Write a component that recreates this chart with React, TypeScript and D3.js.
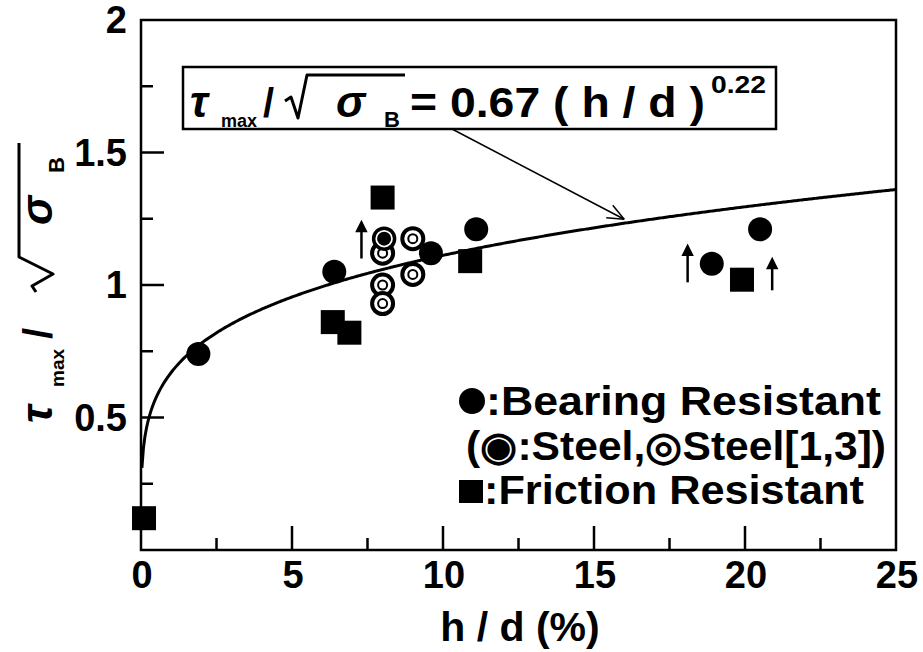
import React, { useRef, useEffect } from "react";
import * as d3 from "d3";

// bearing resistant (filled circles)
const bearingX = [1.9, 6.4, 9.6, 11.1, 18.9, 20.5];
const bearingY = [0.74, 1.05, 1.12, 1.21, 1.08, 1.21];
// steel, this study (filled circle with ring)
const steelX = [8.05];
const steelY = [1.175];
// steel from refs [1,3] (double rings)
const steelRefX = [8.0, 9.0, 9.0, 8.0, 8.0];
const steelRefY = [1.12, 1.175, 1.04, 1.0, 0.93];
// friction resistant (filled squares)
const frictionX = [0.1, 6.35, 6.9, 8.0, 10.9, 19.9];
const frictionY = [0.12, 0.86, 0.82, 1.33, 1.09, 1.02];
// up arrows (lower bound values)
const arrowX = [7.3, 18.1, 20.9];
const arrowBase = [1.1, 1.01, 0.98];
const arrowTop = [1.24, 1.15, 1.1];

const xTicks = [0, 5, 10, 15, 20, 25];
const yTicks = [0.5, 1, 1.5, 2];
const fitA = 0.67;
const fitB = 0.22;

const FONT = "'Liberation Sans', Arial, sans-serif";

function ScatterChart() {
  const svgRef = useRef<SVGSVGElement>(null);

  useEffect(() => {
    const svg = d3.select(svgRef.current);
    svg.selectAll("*").remove();

    const xScale = d3.scaleLinear().domain([0, 25]).range([141, 896]);
    const yScale = d3.scaleLinear().domain([0, 2]).range([550, 20]);

    // frame
    svg.append("rect")
      .attr("x", xScale(0)).attr("y", yScale(2))
      .attr("width", xScale(25) - xScale(0))
      .attr("height", yScale(0) - yScale(2))
      .attr("fill", "none").attr("stroke", "#000").attr("stroke-width", 2.5);

    // x ticks (inside)
    const xMinor = d3.range(2.5, 25, 2.5);
    svg.selectAll(".xt").data(xMinor).join("line").attr("class", "xt")
      .attr("x1", d => xScale(d)).attr("x2", d => xScale(d))
      .attr("y1", yScale(0))
      .attr("y2", d => yScale(0) - (d % 5 === 0 ? 24 : 12))
      .attr("stroke", "#000").attr("stroke-width", 2.5);

    const yMinor = d3.range(0.25, 2, 0.25);
    svg.selectAll(".yt").data(yMinor).join("line").attr("class", "yt")
      .attr("y1", d => yScale(d)).attr("y2", d => yScale(d))
      .attr("x1", xScale(0))
      .attr("x2", d => xScale(0) + (Math.abs(d * 2 - Math.round(d * 2)) < 1e-6 ? 23 : 12))
      .attr("stroke", "#000").attr("stroke-width", 2.5);

    // tick labels
    svg.selectAll(".xl").data(xTicks).join("text").attr("class", "xl")
      .attr("x", d => xScale(d) + 1).attr("y", 588)
      .attr("text-anchor", "middle")
      .style("font-family", FONT).style("font-size", "38px").style("font-weight", "bold")
      .text(d => d);

    svg.selectAll(".yl").data(yTicks).join("text").attr("class", "yl")
      .attr("x", 127).attr("y", d => yScale(d) + 13)
      .attr("text-anchor", "end")
      .style("font-family", FONT).style("font-size", "38px").style("font-weight", "bold")
      .text(d => d);

    // x title
    svg.append("text")
      .attr("x", 520).attr("y", 641).attr("text-anchor", "middle")
      .attr("xml:space", "preserve")
      .style("font-family", FONT).style("font-size", "41px").style("font-weight", "bold")
      .text("h / d (%)");

    // y title (rotated)
    const yt = svg.append("g").attr("transform", "translate(52,283) rotate(-90)")
      .style("font-family", FONT).style("font-weight", "bold");
    yt.append("text").attr("x", -140).attr("y", 0).style("font-size", "44px").style("font-style", "italic").text("τ");
    yt.append("text").attr("x", -104).attr("y", 12).style("font-size", "19px").text("max");
    yt.append("text").attr("x", -56).attr("y", 0).style("font-size", "40px").text("/");
    yt.append("path").attr("d", "M-9,-16 L-3,-20 L9,1 L26,-33 L140,-33")
      .attr("fill", "none").attr("stroke", "#000").attr("stroke-width", 3).attr("stroke-linejoin", "round");
    yt.append("text").attr("x", 58).attr("y", 0).style("font-size", "44px").style("font-style", "italic").text("σ");
    yt.append("text").attr("x", 110).attr("y", 12).style("font-size", "22px").text("B");

    // fit curve
    const xs = d3.range(0.03, 25.001, 0.05);
    const line = d3.line<number>()
      .x(d => xScale(d))
      .y(d => yScale(fitA * Math.pow(d, fitB)));
    svg.append("path").datum(xs)
      .attr("d", line)
      .attr("fill", "none").attr("stroke", "#000").attr("stroke-width", 3);

    // formula box
    svg.append("rect").attr("x", 183).attr("y", 67).attr("width", 593).attr("height", 62)
      .attr("fill", "#fff").attr("stroke", "#000").attr("stroke-width", 2.5);
    const ft = svg.append("g").style("font-family", FONT).style("font-weight", "bold");
    ft.append("text").attr("x", 190).attr("y", 117).style("font-size", "44px").style("font-style", "italic").text("τ");
    ft.append("text").attr("x", 221).attr("y", 127).style("font-size", "18px").text("max");
    ft.append("text").attr("x", 263).attr("y", 117).style("font-size", "40px").text("/");
    ft.append("path").attr("d", "M285,101 L291,97 L298,118 L307,75 L405,75")
      .attr("fill", "none").attr("stroke", "#000").attr("stroke-width", 3).attr("stroke-linejoin", "round");
    ft.append("text").attr("x", 336).attr("y", 117).style("font-size", "44px").style("font-style", "italic").text("σ");
    ft.append("text").attr("x", 384).attr("y", 127).style("font-size", "22px").text("B");
    ft.append("text").attr("x", 410).attr("y", 117).attr("xml:space", "preserve")
      .attr("textLength", 295).attr("lengthAdjust", "spacingAndGlyphs")
      .style("font-size", "42px").text("= 0.67 ( h / d )");
    ft.append("text").attr("x", 711).attr("y", 93).attr("textLength", 55).attr("lengthAdjust", "spacingAndGlyphs")
      .style("font-size", "24px").text("0.22");

    // pointer arrow from box to curve
    const tipX = xScale(16), tipY = yScale(fitA * Math.pow(16, fitB)) - 4;
    const startX = 452, startY = 129;
    svg.append("line").attr("x1", startX).attr("y1", startY).attr("x2", tipX).attr("y2", tipY)
      .attr("stroke", "#000").attr("stroke-width", 1.5);
    const ang = Math.atan2(tipY - startY, tipX - startX);
    [0.4, -0.4].forEach(a => {
      svg.append("line").attr("x1", tipX).attr("y1", tipY)
        .attr("x2", tipX - 18 * Math.cos(ang + a)).attr("y2", tipY - 18 * Math.sin(ang + a))
        .attr("stroke", "#000").attr("stroke-width", 1.5);
    });

    // lower-bound arrows
    const arrows = arrowX.map((x, i) => ({ x, b: arrowBase[i], t: arrowTop[i] }));
    svg.selectAll(".ua").data(arrows).join("line").attr("class", "ua")
      .attr("x1", d => xScale(d.x)).attr("x2", d => xScale(d.x))
      .attr("y1", d => yScale(d.b)).attr("y2", d => yScale(d.t) + 4)
      .attr("stroke", "#000").attr("stroke-width", 2.5);
    svg.selectAll(".uh").data(arrows).join("path").attr("class", "uh")
      .attr("d", d => `M${xScale(d.x) - 5},${yScale(d.t) + 10} L${xScale(d.x)},${yScale(d.t)} L${xScale(d.x) + 5},${yScale(d.t) + 10} Z`)
      .attr("fill", "#000").attr("stroke", "#000").attr("stroke-width", 1.5);

    // friction squares
    const sq = 24;
    svg.selectAll(".fr").data(frictionX.map((x, i) => [x, frictionY[i]])).join("rect").attr("class", "fr")
      .attr("x", d => xScale(d[0]) - sq / 2).attr("y", d => yScale(d[1]) - sq / 2)
      .attr("width", sq).attr("height", sq).attr("fill", "#000");

    // steel refs (double rings)
    const ref = svg.selectAll(".sr").data(steelRefX.map((x, i) => [x, steelRefY[i]])).join("g").attr("class", "sr");
    ref.append("circle").attr("cx", d => xScale(d[0])).attr("cy", d => yScale(d[1]))
      .attr("r", 10.5).attr("fill", "#fff").attr("stroke", "#000").attr("stroke-width", 4);
    ref.append("circle").attr("cx", d => xScale(d[0])).attr("cy", d => yScale(d[1]))
      .attr("r", 4.5).attr("fill", "none").attr("stroke", "#000").attr("stroke-width", 2);

    // steel (filled with ring)
    const st = svg.selectAll(".st").data(steelX.map((x, i) => [x, steelY[i]])).join("g").attr("class", "st");
    st.append("circle").attr("cx", d => xScale(d[0])).attr("cy", d => yScale(d[1]))
      .attr("r", 10.5).attr("fill", "#fff").attr("stroke", "#000").attr("stroke-width", 3.5);
    st.append("circle").attr("cx", d => xScale(d[0])).attr("cy", d => yScale(d[1]))
      .attr("r", 7).attr("fill", "#000");

    // bearing circles
    svg.selectAll(".br").data(bearingX.map((x, i) => [x, bearingY[i]])).join("circle").attr("class", "br")
      .attr("cx", d => xScale(d[0])).attr("cy", d => yScale(d[1]))
      .attr("r", 12).attr("fill", "#000");

    // legend
    const lg = svg.append("g").style("font-family", FONT).style("font-size", "40px").style("font-weight", "bold");
    lg.append("circle").attr("cx", 472).attr("cy", 401).attr("r", 13).attr("fill", "#000");
    lg.append("text").attr("x", 486).attr("y", 415).attr("textLength", 395).attr("lengthAdjust", "spacingAndGlyphs")
      .text(":Bearing Resistant");
    lg.append("text").attr("x", 466).attr("y", 460).attr("textLength", 420).attr("lengthAdjust", "spacingAndGlyphs")
      .text("(◉:Steel,◎Steel[1,3])");
    lg.append("rect").attr("x", 459).attr("y", 480).attr("width", 24).attr("height", 23).attr("fill", "#000");
    lg.append("text").attr("x", 484).attr("y", 504).attr("textLength", 380).attr("lengthAdjust", "spacingAndGlyphs")
      .text(":Friction Resistant");
  }, []);

  return (
    <svg ref={svgRef} width={923} height={652}
      style={{ position: "absolute", left: 0, top: 0, background: "#fff" }} />
  );
}

export default function App() {
  return <ScatterChart />;
}
